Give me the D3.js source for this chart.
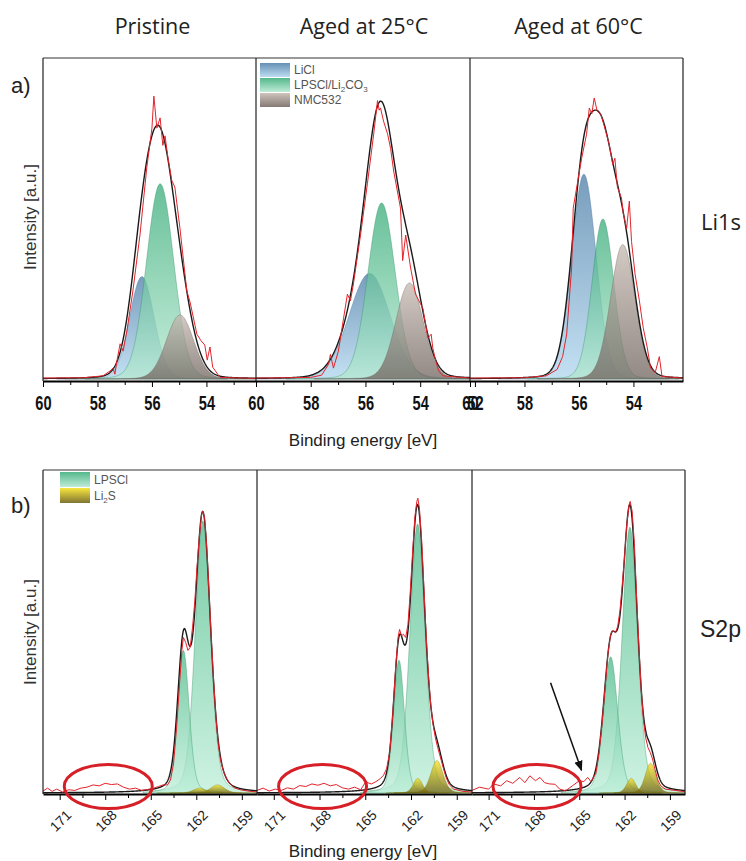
<!DOCTYPE html>
<html>
<head>
<meta charset="utf-8">
<script src="https://cdn.jsdelivr.net/npm/d3@7"></script>
<style>
  body { margin: 0; background: #fff; }
  svg { display: block; }
  text { font-family: "Liberation Sans", Arial, sans-serif; }
</style>
</head>
<body>
<svg id="chart" width="746" height="861"></svg>
<script>
const columnTitles = ["Pristine", "Aged at 25°C", "Aged at 60°C"];
const rowNames = ["Li1s", "S2p"];

// Li1s fitted peaks, one per column: [centre eV, height, sigma eV]
const li1sLiCl = [[56.37, 32, 0.45], [55.85, 33, 0.75], [55.82, 64, 0.45]];
const li1sLPSCl = [[55.7, 61, 0.5], [55.41, 55, 0.5], [55.12, 50, 0.4]];
const li1sNMC = [[54.97, 20, 0.5], [54.39, 30, 0.5], [54.39, 42, 0.45]];

// S2p fitted doublets (2p3/2, 2p1/2), per column
const s2pLPSCl = [
  [[161.57, 84, 0.5], [162.85, 44, 0.38]],
  [[161.57, 83, 0.5], [162.79, 41, 0.36]],
  [[161.65, 82, 0.51], [162.92, 42, 0.47]]
];
const s2pLi2S = [
  [[160.6, 2.5, 0.45], [161.8, 1.5, 0.4]],
  [[160.3, 10, 0.4], [161.55, 4.5, 0.3]],
  [[160.28, 9.2, 0.35], [161.56, 4.5, 0.3]]
];

const li1sMeasured = [
  [[60, 0.3], [58.5, 0.4], [57.8, 1], [57.54, 2.5], [57.43, 3.4], [57.36, 1.5], [57.3, 5], [57.17, 11], [57.06, 8.7], [56.92, 15],
   [56.7, 27.5], [56.44, 45], [56.19, 66], [56.0, 78.4], [55.93, 88.4], [55.82, 78.4], [55.7, 81.6], [55.6, 73], [55.52, 76],
   [55.41, 69], [55.27, 62], [55.16, 60], [54.97, 47], [54.72, 27.5], [54.6, 24], [54.35, 14], [54.2, 12], [54.06, 10.6],
   [53.97, 5.9], [53.87, 10], [53.77, 3.7], [53.5, 0.5], [52.2, 0.2]],
  [[60, 0.3], [58, 0.5], [57.6, 1.2], [57.35, 4.6], [57.28, 7.7], [57.17, 3.4], [56.99, 8.7], [56.8, 19], [56.66, 26.5],
   [56.55, 24.4], [56.44, 29.7], [56.18, 45], [55.93, 61], [55.7, 76.5], [55.56, 87], [55.5, 84], [55.45, 84.7], [55.34, 80.6],
   [55.19, 76.5], [55.08, 72], [54.97, 65], [54.72, 53.4], [54.64, 37], [54.53, 45], [54.35, 34.7], [54.17, 26.5], [53.9, 22],
   [53.72, 12.8], [53.6, 14], [53.54, 9.7], [53.43, 5.6], [53.32, 2.5], [53.17, 1], [52.2, 0.3]],
  [[60, 0.3], [58, 0.4], [57.2, 1], [56.8, 3], [56.6, 7], [56.45, 14], [56.27, 34.7], [56.21, 53.4], [56.08, 60], [55.9, 69],
   [55.72, 76.5], [55.62, 84.7], [55.53, 82.8], [55.44, 87.8], [55.33, 83.7], [55.2, 82.8], [55.05, 78.4], [54.89, 73.4],
   [54.76, 67], [54.68, 69], [54.59, 60], [54.44, 56.6], [54.37, 51.6], [54.25, 47], [54.15, 55.6], [54.07, 43], [53.94, 32.8],
   [53.78, 24.4], [53.64, 16], [53.49, 9.7], [53.37, 3.4], [53.2, 2], [53.05, 7], [52.95, 0.8], [52.2, 0.3]]
];
const s2pMeasured = [
  [[172.1, 0.6], [171.8, 1.5], [171.5, 0.5], [171.2, 1.2], [170.8, 0.3], [170.4, 1], [170, 0.8], [169.6, 1.5], [169.2, 1.8],
   [168.8, 2.5], [168.4, 2.2], [168, 3], [167.6, 2.6], [167.2, 2.8], [166.8, 1.8], [166.4, 1.2], [166, 1.5], [165.6, 0.8],
   [165.2, 1.1], [164.8, 1.5], [164.5, 2.0], [164.2, 2.5], [163.9, 2.5], [163.7, 4], [163.5, 9], [163.3, 20], [163.1, 34],
   [162.95, 44], [162.85, 48], [162.7, 46.5], [162.55, 44], [162.4, 45], [162.25, 51], [162.1, 59], [161.95, 70], [161.8, 79],
   [161.65, 86], [161.57, 87], [161.45, 85], [161.3, 75], [161.15, 61], [161.0, 47], [160.85, 34], [160.7, 23], [160.55, 15],
   [160.4, 10], [160.2, 6.5], [160.0, 4.5], [159.8, 3], [159.5, 1.6], [159.1, 1], [158.6, 0.6], [158, 0.3]],
  [[172.1, 0.8], [171.7, 1.5], [171.3, 0.6], [170.9, 1.2], [170.5, 0.8], [170.1, 1.6], [169.7, 1.2], [169.3, 2.3], [168.9, 2],
   [168.5, 2.8], [168.1, 2.4], [167.7, 3], [167.3, 2.2], [166.9, 2.6], [166.5, 1.6], [166.1, 1.2], [165.7, 1.8], [165.3, 1],
   [164.98, 3.4], [164.6, 2.8], [164.3, 3.5], [164.0, 4.5], [163.8, 5.5], [163.6, 7.5], [163.4, 12.5], [163.2, 24], [163.0, 39],
   [162.85, 48], [162.75, 50.5], [162.62, 48.5], [162.5, 49], [162.35, 48], [162.2, 52], [162.05, 62], [161.9, 74], [161.75, 85],
   [161.62, 90], [161.55, 91], [161.45, 88], [161.3, 78], [161.15, 63], [161.0, 48], [160.85, 36], [160.7, 27], [160.55, 21],
   [160.4, 17], [160.25, 14], [160.1, 11.5], [159.9, 8], [159.7, 4.8], [159.5, 2.6], [159.2, 1.2], [158.6, 0.5], [158, 0.3]],
  [[172.1, 0.8], [171.6, 1.8], [171.0, 1.2], [170.67, 2.8], [170.2, 2.2], [169.8, 3.8], [169.4, 3], [168.94, 4.8], [168.6, 3.2],
   [168.27, 5.3], [167.9, 3.8], [167.6, 4.8], [167.3, 3.2], [166.97, 2.8], [166.6, 2.7], [166.3, 1.2], [165.9, 0.7], [165.43, 2.3],
   [164.99, 3.8], [164.7, 3.5], [164.44, 4.8], [164.22, 3.5], [164.05, 5], [163.9, 6], [163.7, 12], [163.5, 21], [163.3, 32],
   [163.1, 43], [162.95, 48], [162.85, 50], [162.75, 50], [162.6, 49.5], [162.45, 51.5], [162.3, 56.5], [162.15, 64.5], [162.0, 73],
   [161.85, 83], [161.7, 89], [161.63, 90], [161.5, 87], [161.35, 77], [161.2, 60], [161.05, 45], [160.9, 32], [160.75, 22.5],
   [160.6, 17], [160.45, 14], [160.3, 12.5], [160.15, 10.5], [160.0, 7.5], [159.8, 4], [159.6, 2.2], [159.3, 1.2], [158, 0.4]]
];

const li1sTicks = [60, 58, 56, 54];
const li1sMinor = [59, 57, 55, 53];
const s2pTicks = [171, 168, 165, 162, 159];
const s2pMinor = [169.5, 166.5, 163.5, 160.5];

const svg = d3.select("#chart");
const defs = svg.append("defs");

function addGradient(id, top, bottom) {
  const lg = defs.append("linearGradient").attr("id", id)
    .attr("x1", 0).attr("y1", 0).attr("x2", 0).attr("y2", 1);
  lg.append("stop").attr("offset", "0%").attr("stop-color", top);
  lg.append("stop").attr("offset", "100%").attr("stop-color", bottom);
}
addGradient("gLiCl", "#4a7ca6", "#b0d6ef");
addGradient("gLPSCl", "#36ab77", "#b4e8d0");
addGradient("gLPSCl2", "#49b987", "#bdeed8");
addGradient("gNMC", "#c6b8b0", "#6f625c");
addGradient("gLi2S", "#f6e21c", "#6a5c0e");

defs.append("marker").attr("id", "arrow")
  .attr("viewBox", "0 -5 10 10").attr("refX", 9).attr("refY", 0)
  .attr("markerWidth", 7).attr("markerHeight", 7).attr("orient", "auto")
  .append("path").attr("d", "M0,-4L10,0L0,4Z").attr("fill", "#111");

// Gaussian-Lorentzian product-free mix, same half width for both parts
function peakShape(p, e, mix) {
  const d = e - p[0];
  const g = Math.exp(-(d * d) / (2 * p[2] * p[2]));
  const hw = p[2] * 1.1774;
  const l = 1 / (1 + (d / hw) ** 2);
  return p[1] * ((1 - mix) * g + mix * l);
}

const rows = [
  {
    panels: [[43, 256], [256, 470], [470, 683]],
    domain: [60, 52.18], yRange: [379, 59], axisY: 381, top: 58, mix: 0.08,
    components: [
      { fill: "url(#gLiCl)", stroke: "#3d6a8f", peaks: li1sLiCl.map(p => [p]) },
      { fill: "url(#gLPSCl)", stroke: "#2b8d60", peaks: li1sLPSCl.map(p => [p]) },
      { fill: "url(#gNMC)", stroke: "#6b5e58", peaks: li1sNMC.map(p => [p]) }
    ],
    measured: li1sMeasured
  },
  {
    panels: [[43, 257], [257, 472], [472, 685]],
    domain: [172.1, 158], yRange: [793, 469], axisY: 794, top: 470, mix: 0.25,
    components: [
      { fill: "url(#gLPSCl2)", stroke: "#2b8d60", peaks: s2pLPSCl },
      { fill: "url(#gLi2S)", stroke: "#8a7a10", peaks: s2pLi2S }
    ],
    measured: s2pMeasured
  }
];

rows.forEach((row, r) => {
  const y = d3.scaleLinear().domain([0, 100]).range(row.yRange);
  row.scales = [];
  row.panels.forEach((px, i) => {
    const x = d3.scaleLinear().domain(row.domain).range(px);
    row.scales.push(x);
    const clipId = `clip${r}${i}`;
    defs.append("clipPath").attr("id", clipId).append("rect")
      .attr("x", px[0]).attr("y", row.top).attr("width", px[1] - px[0]).attr("height", row.axisY - row.top);
    const g = svg.append("g").attr("clip-path", `url(#${clipId})`);
    const grid = d3.range(row.domain[0], row.domain[1] - 0.01, -0.02);

    const area = d3.area().x(d => x(d[0])).y0(y(0)).y1(d => y(d[1]));
    const allPeaks = [];
    row.components.forEach(c => {
      c.peaks[i].forEach(p => {
        allPeaks.push(p);
        const pts = grid.filter(e => Math.abs(e - p[0]) < 7 * p[2]).map(e => [e, peakShape(p, e, row.mix)]);
        g.append("path").datum(pts).attr("d", area)
          .attr("fill", c.fill).attr("fill-opacity", 0.75)
          .attr("stroke", c.stroke).attr("stroke-width", 0.6).attr("stroke-opacity", 0.6);
      });
    });

    const line = d3.line().x(d => x(d[0])).y(d => y(d[1]));
    const envelope = grid.map(e => [e, d3.sum(allPeaks, p => peakShape(p, e, row.mix))]);
    g.append("path").datum(envelope).attr("d", line)
      .attr("fill", "none").attr("stroke", "#1a1a1a").attr("stroke-width", 1.4);
    g.append("path").datum(row.measured[i]).attr("d", line)
      .attr("fill", "none").attr("stroke", "#e3242b").attr("stroke-width", 1);
  });
  row.y = y;
});

// frames
rows.forEach(row => {
  const x0 = row.panels[0][0], x1 = row.panels[2][1];
  svg.append("line").attr("x1", x0).attr("x2", x1).attr("y1", row.top).attr("y2", row.top)
    .attr("stroke", "#333").attr("stroke-width", 1);
  row.panels.forEach(px => {
    svg.append("line").attr("x1", px[0]).attr("x2", px[0]).attr("y1", row.top).attr("y2", row.axisY)
      .attr("stroke", "#222").attr("stroke-width", 1.2);
  });
  svg.append("line").attr("x1", x1).attr("x2", x1).attr("y1", row.top).attr("y2", row.axisY)
    .attr("stroke", "#222").attr("stroke-width", 1.2);
});

// Li1s axes (the 52 of the middle panel runs into the 60 of the last one, as in the original)
rows[0].scales.forEach((x, i) => {
  const major = i === 1 ? li1sTicks.concat([52]) : li1sTicks;
  const g = svg.append("g").attr("transform", `translate(0,${rows[0].axisY})`);
  g.call(d3.axisBottom(x).tickValues(li1sMinor).tickSize(4).tickSizeOuter(0).tickFormat(""));
  g.select(".domain").remove();
  const a = svg.append("g").attr("transform", `translate(0,${rows[0].axisY})`)
    .call(d3.axisBottom(x).tickValues(major).tickSize(6).tickSizeOuter(0).tickFormat(d3.format("d")));
  a.select(".domain").attr("stroke-width", 2);
  a.selectAll("text").attr("y", 12.1).attr("transform", "scale(0.86,1.18)")
    .style("font-weight", "bold").style("font-size", "17px").attr("fill", "#111");
});

// S2p axes
rows[1].scales.forEach(x => {
  const g = svg.append("g").attr("transform", `translate(0,${rows[1].axisY})`);
  g.call(d3.axisBottom(x).tickValues(s2pMinor).tickSize(4).tickSizeOuter(0).tickFormat(""));
  g.select(".domain").remove();
  const a = svg.append("g").attr("transform", `translate(0,${rows[1].axisY})`)
    .call(d3.axisBottom(x).tickValues(s2pTicks).tickSize(6).tickSizeOuter(0).tickFormat(d3.format("d")));
  a.select(".domain").attr("stroke-width", 2);
  a.selectAll("text").attr("x", 0).attr("y", 0).attr("dy", 0)
    .attr("text-anchor", "end").attr("transform", "translate(12,22) rotate(-45)")
    .style("font-size", "14px").attr("fill", "#222");
});

// annotations in S2p: circled region and arrow
const s2pY = rows[1].y;
rows[1].scales.forEach(x => {
  svg.append("ellipse").attr("cx", x(167.8)).attr("cy", s2pY(2)).attr("rx", 44).attr("ry", 22)
    .attr("fill", "none").attr("stroke", "#d61f26").attr("stroke-width", 3);
});
const x3 = rows[1].scales[2];
svg.append("line")
  .attr("x1", x3(166.9)).attr("y1", s2pY(34)).attr("x2", x3(164.85)).attr("y2", s2pY(7))
  .attr("stroke", "#111").attr("stroke-width", 1.5).attr("marker-end", "url(#arrow)");

// titles
const titleFont = "'Open Sans', 'Noto Sans', sans-serif";
rows[0].panels.forEach((px, i) => {
  svg.append("text").attr("x", (px[0] + px[1]) / 2 + (i === 0 ? 3 : i === 1 ? 1 : 2)).attr("y", 34)
    .attr("text-anchor", "middle").style("font-family", titleFont).style("font-size", "21.5px")
    .attr("fill", "#222").text(columnTitles[i]);
});
svg.append("text").attr("x", 701).attr("y", 230).style("font-family", titleFont)
  .style("font-size", "22px").attr("fill", "#222").text(rowNames[0]);
svg.append("text").attr("x", 700).attr("y", 637)
  .style("font-size", "23px").attr("fill", "#222").text(rowNames[1]);

svg.append("text").attr("x", 11).attr("y", 93).style("font-size", "22px").attr("fill", "#222").text("a)");
svg.append("text").attr("x", 11).attr("y", 513).style("font-size", "22px").attr("fill", "#222").text("b)");

[217, 632].forEach(cy => {
  svg.append("text").attr("transform", `translate(36,${cy}) rotate(-90)`)
    .attr("text-anchor", "middle").style("font-size", "17px").attr("fill", "#333").text("Intensity [a.u.]");
});
svg.append("text").attr("x", 363).attr("y", 446).attr("text-anchor", "middle")
  .style("font-size", "17px").attr("fill", "#222").text("Binding energy [eV]");
svg.append("text").attr("x", 363).attr("y", 857).attr("text-anchor", "middle")
  .style("font-size", "17px").attr("fill", "#222").text("Binding energy [eV]");

// legends
function legend(x0, y0, items, h) {
  items.forEach((it, k) => {
    const yy = y0 + k * (h + 1);
    svg.append("rect").attr("x", x0).attr("y", yy).attr("width", 30).attr("height", h)
      .attr("fill", it.fill).attr("fill-opacity", 0.85);
    const t = svg.append("text").attr("x", x0 + 34).attr("y", yy + h - 3)
      .style("font-size", "12px").attr("fill", "#555");
    it.label.forEach(part => {
      if (part.sub) t.append("tspan").attr("dy", 3).style("font-size", "8px").text(part.text);
      else t.append("tspan").attr("dy", part.after ? -3 : 0).text(part.text);
    });
  });
}
legend(260, 63, [
  { fill: "url(#gLiCl)", label: [{ text: "LiCl" }] },
  { fill: "url(#gLPSCl)", label: [{ text: "LPSCl/Li" }, { text: "2", sub: true }, { text: "CO", after: true }, { text: "3", sub: true }] },
  { fill: "url(#gNMC)", label: [{ text: "NMC532" }] }
], 14);
legend(60, 472, [
  { fill: "url(#gLPSCl)", label: [{ text: "LPSCl" }] },
  { fill: "url(#gLi2S)", label: [{ text: "Li" }, { text: "2", sub: true }, { text: "S", after: true }] }
], 15);
</script>
</body>
</html>
